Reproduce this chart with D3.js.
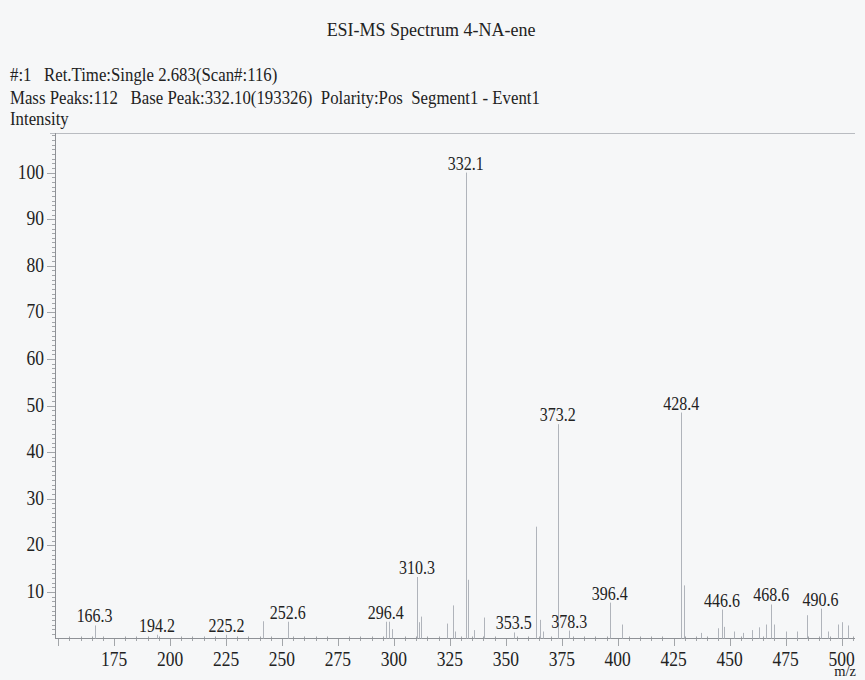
<!DOCTYPE html>
<html>
<head>
<meta charset="utf-8">
<script src="https://cdn.jsdelivr.net/npm/d3@7"></script>
<style>
  html, body { margin: 0; padding: 0; background: #f6f7f8; }
  svg { display: block; }
  text { font-family: "Liberation Serif", "Times New Roman", serif; fill: #222; white-space: pre; }
</style>
</head>
<body>
<svg id="chart" width="865" height="680"></svg>
<script>
// Spectrum peaks: m/z and relative intensity (%)
const peakMz = [166.3, 194.2, 225.2, 241.6, 252.6, 296.4, 297.9, 299.3, 310.3, 311.3, 312.3,
  323.8, 326.3, 327.4, 332.1, 333.1, 336.0, 340.3, 353.5, 363.6, 365.4, 366.5, 373.2, 378.3,
  396.4, 401.8, 428.4, 429.4, 437.0, 444.6, 446.6, 447.5, 452.0, 456.0, 460.0, 463.2, 466.2,
  468.6, 470.0, 475.0, 480.3, 484.5, 490.6, 494.0, 498.6, 500.2, 503.0];
const peakIntensity = [2.8, 0.8, 0.8, 3.7, 3.6, 3.6, 3.6, 2.0, 13.2, 3.5, 4.7,
  3.2, 7.1, 1.5, 100, 12.6, 1.8, 4.5, 1.3, 24.0, 4.0, 1.5, 46.0, 1.7,
  7.7, 3.0, 48.5, 11.4, 1.2, 2.2, 6.2, 2.5, 1.5, 1.2, 1.8, 2.4, 3.0,
  7.3, 3.0, 1.5, 1.5, 5.0, 6.4, 1.5, 3.0, 3.5, 2.8];
// Peaks annotated with their m/z
const labeledMz = [166.3, 194.2, 225.2, 252.6, 296.4, 310.3, 332.1, 353.5, 373.2, 378.3,
  396.4, 428.4, 446.6, 468.6, 490.6];
const xTicks = [175, 200, 225, 250, 275, 300, 325, 350, 375, 400, 425, 450, 475, 500];
const yTicks = [10, 20, 30, 40, 50, 60, 70, 80, 90, 100];

const titleText = "ESI-MS Spectrum 4-NA-ene";
const headerLines = [
  "#:1   Ret.Time:Single 2.683(Scan#:116)",
  "Mass Peaks:112   Base Peak:332.10(193326)  Polarity:Pos  Segment1 - Event1",
  "Intensity"
];

const peaks = peakMz.map((m, i) => ({ mz: m, v: peakIntensity[i] }));

const svg = d3.select("#chart");
const x = d3.scaleLinear().domain([148.6, 506]).range([55, 855]);
const y = d3.scaleLinear().domain([0, 108.5]).range([638.5, 133]);

const axisColor = "#8e9196";
const peakColor = "#b0b4bb";

// Text drawn slightly taller than wide, like the printed report
function label(sel, tx, ty, str, size, anchor, sy) {
  return sel.append("text")
    .attr("transform", `translate(${tx},${ty}) scale(1,${sy || 1.15})`)
    .attr("text-anchor", anchor || "start")
    .style("font-size", size + "px")
    .text(str);
}

// Header
label(svg, 431, 36, titleText, 18, "middle", 1.05);
label(svg, 10, 81, headerLines[0], 16.8, "start", 1.08);
label(svg, 10, 104, headerLines[1], 16.8, "start", 1.08);
label(svg, 10, 125, headerLines[2], 16.8, "start", 1.08);

// Top rule
svg.append("line")
  .attr("x1", 50).attr("x2", 855)
  .attr("y1", 133.5).attr("y2", 133.5)
  .attr("stroke", "#b9bcc1").attr("stroke-width", 1);

// Y axis with dense minor ticks
const gy = svg.append("g");
gy.append("line")
  .attr("x1", 55.5).attr("x2", 55.5)
  .attr("y1", y(108.5)).attr("y2", y(0))
  .attr("stroke", axisColor);
gy.selectAll("line.minor")
  .data(d3.range(1, 109))
  .join("line")
  .attr("class", "minor")
  .attr("x1", d => d % 10 === 0 ? 47 : 52)
  .attr("x2", 55.5)
  .attr("y1", d => Math.round(y(d)) + 0.5)
  .attr("y2", d => Math.round(y(d)) + 0.5)
  .attr("stroke", axisColor).attr("stroke-width", 0.8);
yTicks.forEach(t => label(gy, 44, y(t) + 6, String(t), 17.5, "end"));

// X axis
const gx = svg.append("g");
gx.append("line")
  .attr("x1", 55).attr("x2", 855)
  .attr("y1", 638.5).attr("y2", 638.5)
  .attr("stroke", axisColor);
gx.selectAll("line.minor")
  .data(d3.range(150, 506, 5))
  .join("line")
  .attr("class", "minor")
  .attr("x1", d => Math.round(x(d)) + 0.5)
  .attr("x2", d => Math.round(x(d)) + 0.5)
  .attr("y1", d => d % 25 === 0 ? 638.5 : 636.5)
  .attr("y2", d => d % 25 === 0 ? 646 : 641)
  .attr("stroke", axisColor).attr("stroke-width", 0.8);
xTicks.forEach(t => label(gx, x(t), 666, String(t), 17.5, "middle"));
label(svg, 856, 676, "m/z", 14.5, "end", 1.0);

// Peak sticks
svg.append("g").selectAll("line")
  .data(peaks)
  .join("line")
  .attr("x1", d => Math.round(x(d.mz)) + 0.5)
  .attr("x2", d => Math.round(x(d.mz)) + 0.5)
  .attr("y1", y(0))
  .attr("y2", d => y(d.v))
  .attr("stroke", peakColor).attr("stroke-width", 1);

// Peak annotations
const gl = svg.append("g");
peaks.filter(p => labeledMz.includes(p.mz)).forEach(p => {
  label(gl, x(p.mz), y(p.v) - 3, p.mz.toFixed(1), 16, "middle");
});
</script>
</body>
</html>
